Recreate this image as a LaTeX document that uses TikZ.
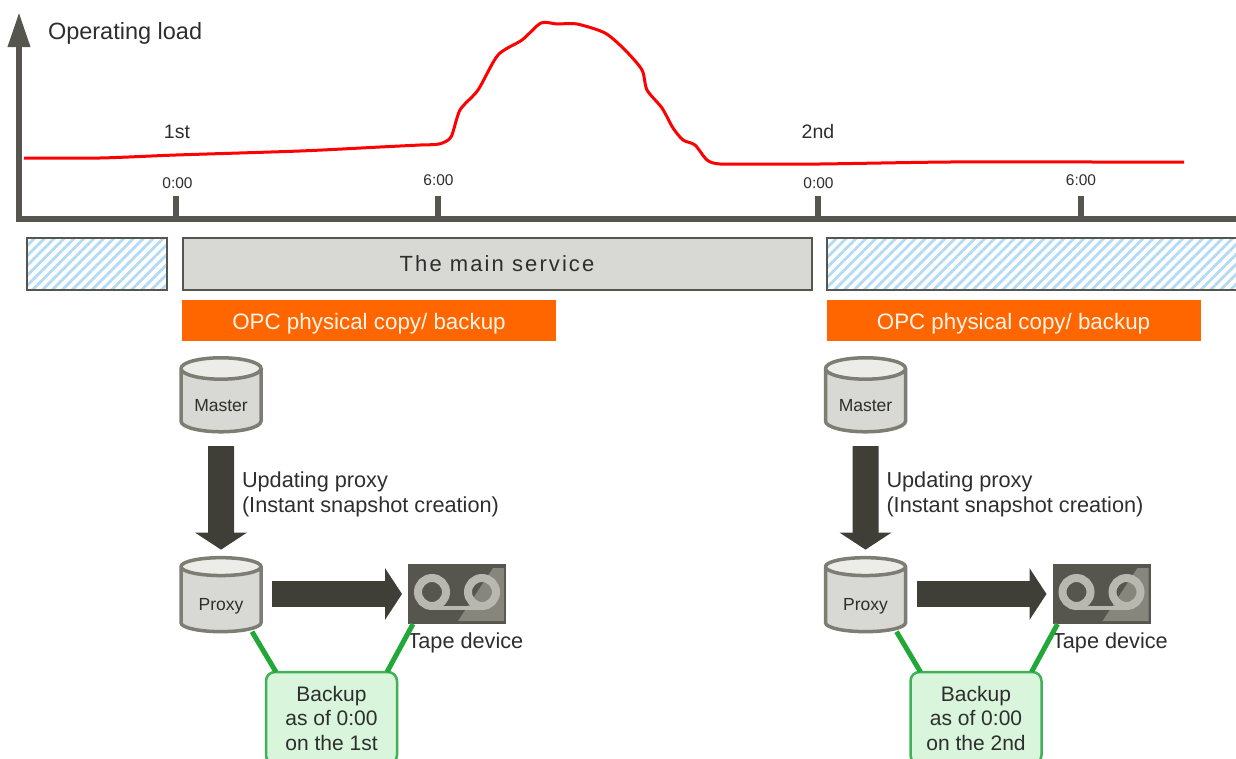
\documentclass[tikz,border=0pt]{standalone}
\usepackage{fontspec}
\setmainfont{Liberation Sans}
\newfontfamily\spacedfont[LetterSpace=9.5]{Liberation Sans}
\usetikzlibrary{arrows.meta,shapes.geometric,patterns.meta}
\definecolor{axisgrey}{HTML}{56564E}
\definecolor{arrowgrey}{HTML}{3F3F37}
\definecolor{drumedge}{HTML}{7D7D74}
\definecolor{drumfill}{HTML}{D8D8D4}
\definecolor{drumtop}{HTML}{ECECE9}
\definecolor{reelgrey}{HTML}{B8B8B0}
\definecolor{tapelight}{HTML}{86867C}
\definecolor{linkgreen}{HTML}{22A838}
\definecolor{notefill}{HTML}{D9F5DC}
\definecolor{noteedge}{HTML}{3FB255}
\definecolor{hatchblue}{HTML}{B4DBF5}
\definecolor{labelgrey}{HTML}{2E2E2E}
\definecolor{copyorange}{HTML}{FF6600}
\tikzset{
  axisline/.style={draw=axisgrey,line width=6.5pt},
  tickmark/.style={draw=axisgrey,line width=6.5pt},
  loadcurve/.style={draw=red,line width=3pt,line join=round},
  sizebig/.style={font=\fontsize{23.5}{27}\selectfont},
  sizemid/.style={font=\fontsize{21.7}{25}\selectfont},
  sizesmall/.style={font=\fontsize{17.5}{21}\selectfont},
  labeltext/.style={text=labelgrey,inner sep=0pt,outer sep=0pt},
  hatchbar/.style={draw=axisgrey,line width=2pt,inner sep=0pt,outer sep=0pt,anchor=north west,
    pattern={Lines[angle=45,distance=7pt,line width=2.8pt]},pattern color=hatchblue},
  servicebar/.style={draw=axisgrey,line width=2pt,fill=drumfill,inner sep=0pt,outer sep=0pt,text=labelgrey,
    font=\spacedfont\fontsize{22}{26}\selectfont},
  copybar/.style={fill=copyorange,text=white!92!orange,inner sep=0pt,outer sep=0pt,minimum width=374pt,
    minimum height=41pt,anchor=north west,text height=22pt,text depth=5pt,font=\fontsize{22.35}{27}\selectfont},
  drum/.style={cylinder,shape border rotate=90,aspect=0.4,draw=drumedge,line width=3.5pt,cylinder uses custom fill,
    cylinder body fill=drumfill,cylinder end fill=drumtop,minimum width=80pt,minimum height=74pt,inner sep=0pt,
    outer sep=0pt,text=labelgrey,text height=25pt,text depth=4pt,sizesmall},
  bigarrow/.style={draw=arrowgrey,line width=26pt,-{Triangle[width=51pt,length=17pt]}},
  tapebox/.style={fill=axisgrey,minimum width=98pt,minimum height=60pt,inner sep=0pt,outer sep=0pt},
  reelring/.style={draw=reelgrey,line width=8pt},
  greenlink/.style={draw=linkgreen,line width=5pt},
  notebox/.style={draw=noteedge,line width=2.5pt,fill=notefill,rounded corners=9pt,minimum width=131pt,
    minimum height=92pt,inner sep=0pt,outer sep=0pt,text=labelgrey,align=center,font=\fontsize{21}{24.5}\selectfont},
}
\begin{document}
\begin{tikzpicture}[x=1pt,y=-1pt]
      \useasboundingbox (0,0) rectangle (1236,758);
      \node[hatchbar,minimum width=140pt,minimum height=52pt] (gapone) at (27,238) {};
      \node[servicebar,minimum width=629pt,minimum height=52pt,anchor=north west] (service) at (182.5,238) {The main service};
      \begin{scope}
        \clip (0,0) rectangle (1236,758);
        \node[hatchbar,minimum width=420pt,minimum height=52pt] (gaptwo) at (827,238) {};
      \end{scope}
      \coordinate (origin) at (19,219);
      \coordinate (ytop) at (19,12);
      \coordinate (xend) at (1236,219);
      \draw[axisline,-{Triangle[width=21pt,length=35pt]}] (origin) -- (ytop);
      \draw[axisline] ([xshift=-3pt]origin) -- (xend);
      \node[labeltext,sizebig,anchor=west] (ylabel) at (48,33) {Operating load};
      \foreach \tickname/\tickx/\labelx/\ticky/\ticktext in {a/176/177.5/183/0:00,b/438/438.5/180/6:00,c/818/818.5/183/0:00,d/1081/1081/180/6:00} {
        \coordinate (tick\tickname) at (\tickx,196);
        \draw[tickmark] (tick\tickname) -- (\tickx,219);
        \node[labeltext,font=\fontsize{15.5}{19}\selectfont] (time\tickname) at (\labelx,\ticky) {\ticktext};
      }
      \node[labeltext,font=\fontsize{19.5}{23}\selectfont] (dayone) at (177,132) {1st};
      \node[labeltext,font=\fontsize{19.5}{23}\selectfont] (daytwo) at (818,132) {2nd};
      \draw[loadcurve] plot[smooth,tension=0.45] coordinates {(24,158) (100,158) (176,155) (300,151) (380,147) (420,145)
        (439,144) (451,137) (460,110) (478,90) (498,55) (522,40) (541,23) (557,24) (577,24) (605,33) (625,50) (642,70)
        (647,90) (662,108) (673,128) (683,140) (695,145) (707,160) (720,164) (760,164) (820,164) (950,162) (1100,162) (1184,162)};
      \foreach \grp/\dx/\dayname in {a/0/1st,b/644.5/2nd} {
        \begin{scope}[xshift=\dx pt]
          \node[copybar] (copy\grp) at (182,300) {OPC physical copy/ backup};
          \node[drum] (master\grp) at (221,401) {Master};
          \node[drum] (proxy\grp) at (221,600) {Proxy};
          \node[tapebox] (tape\grp) at (457,594) {};
          \fill[tapelight] (493,568) -- (504,568) -- (504,621) -- (458,621) -- cycle;
          \draw[reelring] (432,592) circle (14pt) (482,592) circle (14pt);
          \draw[reelring,line width=4pt] (432,608) -- (482,608);
          \node[labeltext,sizemid,anchor=north west] (tapename\grp) at (407.5,633) {Tape device};
          \node[notebox,anchor=north west] (note\grp) at (266,672) {Backup\\as of 0:00\\on the \dayname};
          \node[labeltext,sizemid,anchor=north west,align=left] (update\grp) at (242,472)
            {Updating proxy\\(Instant snapshot creation)};
          \draw[bigarrow,shorten >=8pt] (221,446) -- (proxy\grp.north);
          \draw[bigarrow,shorten >=6pt] (272,594) -- (tape\grp.west);
          \draw[greenlink] ([xshift=31pt]proxy\grp.south) -- ([xshift=10pt]note\grp.north west);
          \draw[greenlink] ([xshift=5pt]tape\grp.south west) -- ([xshift=-10pt]note\grp.north east);
        \end{scope}
      }
\end{tikzpicture}
\end{document}
